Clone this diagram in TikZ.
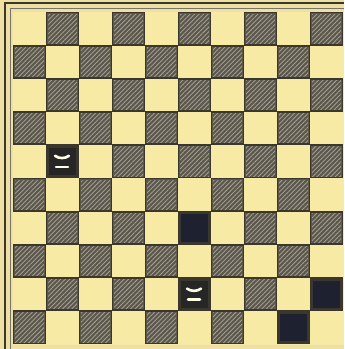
\documentclass[tikz,border=0pt]{standalone}
\usepackage{xcolor}
\usepackage{tikz}
\usetikzlibrary{patterns.meta}
\definecolor{boardbg}{HTML}{EDE0A2}
\definecolor{lightsq}{HTML}{F7EAA4}
\definecolor{darksq}{HTML}{5B564A}
\definecolor{hatchgray}{HTML}{A19D93}
\definecolor{edgebrown}{HTML}{3B372C}
\definecolor{piecedark}{HTML}{1D2130}

\begin{document}
\begin{tikzpicture}[x=0.5pt, y=-0.5pt,
    darkfield/.style={fill=darksq},
    hatchfield/.style={pattern={Lines[angle=45, distance=1.6pt, line width=0.45pt]}, pattern color=hatchgray},
    fieldedge/.style={draw=edgebrown, line width=0.9pt},
    stone/.style={fill=piecedark, draw=edgebrown, line width=0.9pt},
    crownmark/.style={draw=white!90!yellow, line width=1.3pt, line cap=round}]
    % page and frame
    \fill[boardbg] (0,0) rectangle (344,349);
    \useasboundingbox (0,0) rectangle (344,349);
    \draw[edgebrown, line width=1.3pt] (5,349) -- (5,3) -- (344,3);
    \draw[edgebrown!70, line width=0.5pt] (10,349) -- (10,8) -- (344,8);
    \fill[lightsq] (13,12) rectangle (344,345);
    % fields
    \foreach \r in {0,...,9} {
        \foreach \c in {0,...,9} {
            \ifodd\numexpr\r+\c\relax
                \fill[darkfield] ({13+33*\c},{12+33.2*\r}) rectangle ++(33,33.2);
                \fill[hatchfield] ({15+33*\c},{14+33.2*\r}) rectangle ++(29,29.2);
                \draw[fieldedge] ({13.5+33*\c},{12.5+33.2*\r}) rectangle ++(32,32.2);
            \fi
        }
    }
    % black stones
    \foreach \c/\r in {5/6, 9/8, 8/9} {
        \filldraw[stone] ({15+33*\c},{14+33.2*\r}) rectangle ++(29,29.2);
    }
    % white kings
    \foreach \c/\r in {1/4, 5/8} {
        \filldraw[stone, fill=black!85] ({15+33*\c},{14+33.2*\r}) rectangle ++(29,29.2);
        \draw[crownmark] ({22+33*\c},{23+33.2*\r}) .. controls ({26+33*\c},{26+33.2*\r}) and ({32+33*\c},{26+33.2*\r}) .. ({36+33*\c},{23+33.2*\r});
        \draw[crownmark] ({23+33*\c},{34+33.2*\r}) -- ({35+33*\c},{34+33.2*\r});
    }
\end{tikzpicture}
\end{document}
